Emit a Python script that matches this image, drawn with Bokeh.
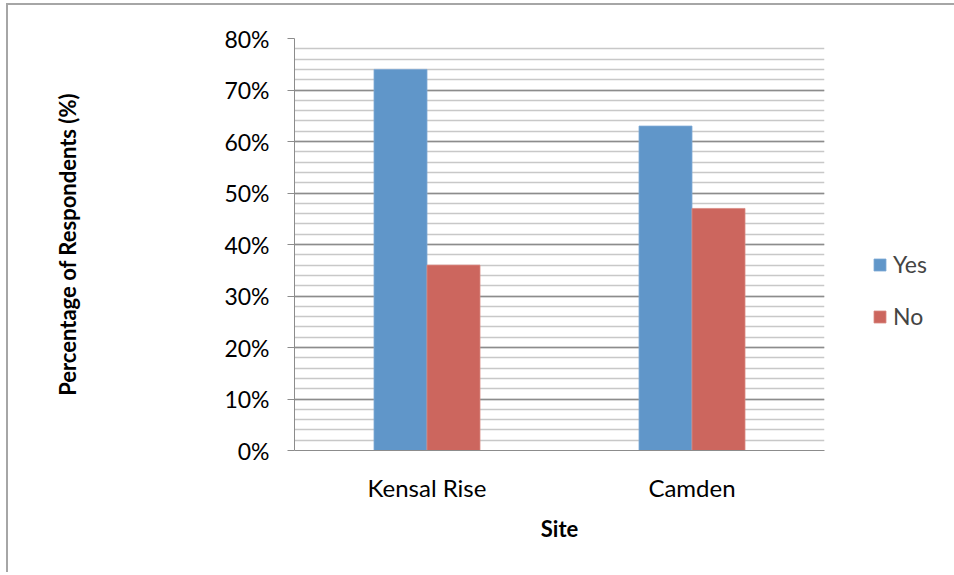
from bokeh.plotting import figure
from bokeh.models import (FactorRange, Range1d, FixedTicker, PrintfTickFormatter,
                          Legend, LegendItem)
from bokeh.transform import dodge
from bokeh.embed import file_html
from bokeh.resources import INLINE

# Survey responses by site (percentage of respondents)
sites = ["Kensal Rise", "Camden"]
yes_pct = [74, 63]
no_pct = [36, 47]
y_ticks = [0, 10, 20, 30, 40, 50, 60, 70, 80]
y_minor = list(range(0, 81, 2))

FONT = "Lato"
BLUE = "#6096C9"
RED = "#CC665E"
GRID_MAJOR = "#8C8C8C"
GRID_MINOR = "#C8C8C8"

# chart-area border drawn on the left and top edges only
p = figure(frame_width=530, frame_height=412,
           x_range=FactorRange(*sites, range_padding=0),
           y_range=Range1d(0, 80), output_backend="svg", toolbar_location=None,
           min_border_left=286, min_border_right=120, min_border_top=33,
           min_border_bottom=124,
           styles={"margin-left": "8px", "margin-top": "5px",
                   "box-shadow": "-2px -2px 0 0 #A6A6A6"})
p.outline_line_color = None
p.background_fill_color = "white"
p.border_fill_color = "white"

src = dict(site=sites, yes=yes_pct, no=no_pct)
r_yes = p.vbar(x=dodge("site", -0.1, range=p.x_range), top="yes", width=0.2,
               source=src, fill_color=BLUE, line_color="#7FAAD6", line_width=0.8)
r_no = p.vbar(x=dodge("site", 0.1, range=p.x_range), top="no", width=0.2,
              source=src, fill_color=RED, line_color="#D98A84", line_width=0.8)

# y axis: percent ticks every 10, minor gridlines every 2
yax = p.yaxis[0]
yax.ticker = FixedTicker(ticks=y_ticks, minor_ticks=y_minor)
yax.formatter = PrintfTickFormatter(format="%d%%")
yax.axis_line_color = GRID_MAJOR
yax.major_tick_line_color = GRID_MAJOR
yax.major_tick_out = 7
yax.major_tick_in = 0
yax.minor_tick_out = 0
yax.minor_tick_in = 0
yax.major_label_text_font = FONT
yax.major_label_text_font_size = "23px"
yax.major_label_text_color = "#000000"
yax.major_label_standoff = 18
yax.axis_label = "Percentage of Respondents (%)"
yax.axis_label_text_font = FONT
yax.axis_label_text_font_size = "22px"
yax.axis_label_text_font_style = "bold"
yax.axis_label_text_color = "#000000"
yax.axis_label_standoff = 140

xax = p.xaxis[0]
xax.axis_line_color = GRID_MAJOR
xax.major_tick_line_color = None
xax.minor_tick_line_color = None
xax.major_label_text_font = FONT
xax.major_label_text_font_size = "24px"
xax.major_label_text_color = "#000000"
xax.major_label_standoff = 16
xax.axis_label = "Site"
xax.axis_label_text_font = FONT
xax.axis_label_text_font_size = "22px"
xax.axis_label_text_font_style = "bold"
xax.axis_label_text_color = "#000000"
xax.axis_label_standoff = 10

p.xgrid.grid_line_color = None
p.ygrid.grid_line_color = GRID_MAJOR
p.ygrid.grid_line_width = 1.5
p.ygrid.minor_grid_line_color = GRID_MINOR
p.ygrid.minor_grid_line_width = 1.5

legend = Legend(items=[LegendItem(label="Yes", renderers=[r_yes]),
                       LegendItem(label="No", renderers=[r_no])],
                location=(48, 120), glyph_width=15, glyph_height=15,
                label_text_font=FONT, label_text_font_size="23px",
                label_standoff=6, spacing=24, padding=10, margin=0,
                border_line_color=None, background_fill_alpha=0)
p.add_layout(legend, "right")

open("out.html", "w").write(file_html(p, INLINE))
